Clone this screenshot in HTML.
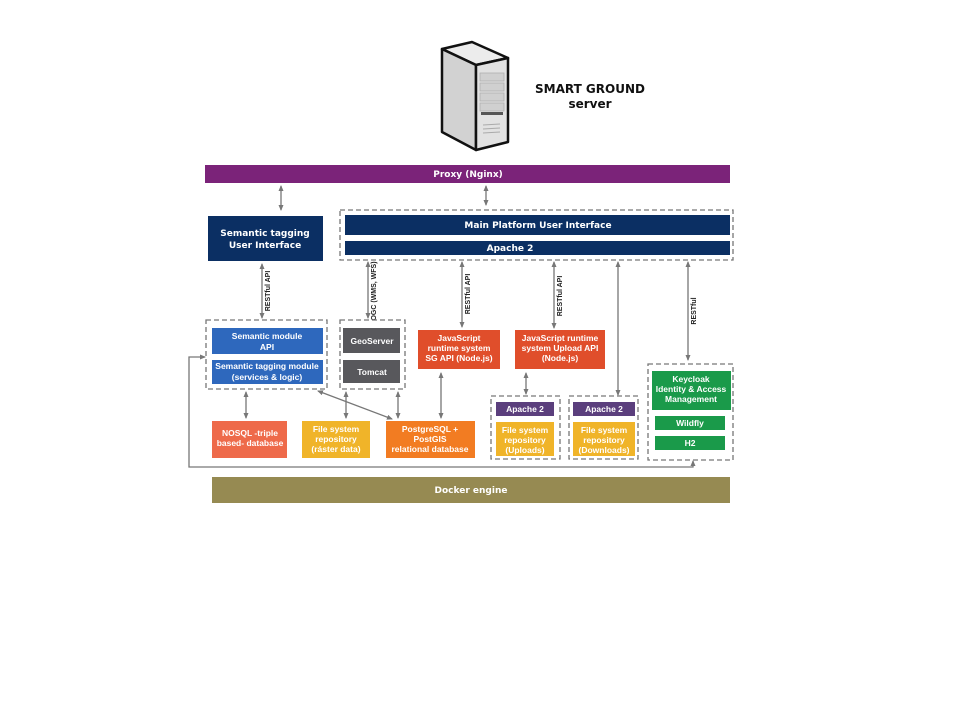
<!DOCTYPE html>
<html><head><meta charset="utf-8"><style>
html,body{margin:0;padding:0;background:#fff;width:960px;height:720px;overflow:hidden}
svg{display:block}
text{font-family:"DejaVu Sans","Liberation Sans",sans-serif;font-weight:bold;fill:#fff;text-anchor:middle}
.s{font-size:8.5px;font-family:"Liberation Sans",sans-serif}
.m{font-size:9px}
.l{font-size:7px;fill:#222;font-family:"Liberation Sans",sans-serif}
</style></head><body>
<svg width="960" height="720" viewBox="0 0 960 720" xmlns="http://www.w3.org/2000/svg">
<defs>
<marker id="a" markerWidth="6" markerHeight="6" refX="5" refY="3" orient="auto-start-reverse" markerUnits="userSpaceOnUse"><path d="M0,0.5 L6,3 L0,5.5z" fill="#777"/></marker>
</defs>
<!-- server -->
<g stroke="#111" stroke-width="2.5" stroke-linejoin="round">
<polygon points="442,49 472,42 508,58 476,65" fill="#ececec"/>
<polygon points="442,49 476,65 476,150 442,132" fill="#d2d2d2"/>
<polygon points="476,65 508,58 508,142 476,150" fill="#e2e2e2"/>
</g>
<g fill="#d0d0d0" stroke="#b0b0b0" stroke-width="0.8">
<rect x="480" y="73" width="24" height="8"/><rect x="480" y="83" width="24" height="8"/><rect x="480" y="93" width="24" height="8"/><rect x="480" y="103" width="24" height="8"/>
</g>
<rect x="481" y="112" width="22" height="3" fill="#555"/>
<line x1="483" y1="125" x2="500" y2="124" stroke="#aaa"/><line x1="483" y1="129" x2="500" y2="128" stroke="#aaa"/><line x1="483" y1="133" x2="500" y2="132" stroke="#aaa"/>
<text x="590" y="93" style="fill:#111;font-size:12px">SMART GROUND</text>
<text x="590" y="108" style="fill:#111;font-size:12px">server</text>

<rect x="205" y="165" width="525" height="18" fill="#7b2379"/>
<text class="m" x="468" y="177">Proxy (Nginx)</text>

<g stroke="#777" stroke-width="1.3" fill="none" marker-start="url(#a)" marker-end="url(#a)">
<line x1="281" y1="186" x2="281" y2="210"/>
<line x1="486" y1="186" x2="486" y2="205"/>
<line x1="262" y1="264" x2="262" y2="318"/>
<line x1="368" y1="262" x2="368" y2="318"/>
<line x1="462" y1="262" x2="462" y2="327"/>
<line x1="554" y1="262" x2="554" y2="328"/>
<line x1="618" y1="262" x2="618" y2="395"/>
<line x1="688" y1="262" x2="688" y2="360"/>
<line x1="246" y1="392" x2="246" y2="418"/>
<line x1="346" y1="392" x2="346" y2="418"/>
<line x1="398" y1="392" x2="398" y2="418"/>
<line x1="441" y1="373" x2="441" y2="418"/>
<line x1="318" y1="391" x2="392" y2="419"/>
<line x1="526" y1="373" x2="526" y2="394"/>
<polyline points="205,357 189,357 189,467 693,467 693,461"/>
</g>

<text class="l" transform="translate(270,291) rotate(-90)">RESTful API</text>
<text class="l" transform="translate(376,291) rotate(-90)">OGC (WMS, WFS)</text>
<text class="l" transform="translate(470,294) rotate(-90)">RESTful API</text>
<text class="l" transform="translate(562,296) rotate(-90)">RESTful API</text>
<text class="l" transform="translate(696,311) rotate(-90)">RESTful</text>

<rect x="208" y="216" width="115" height="45" fill="#0b2f63"/>
<text class="m" x="265" y="236">Semantic tagging</text>
<text class="m" x="265" y="248">User Interface</text>

<rect x="340" y="210" width="393" height="50" fill="none" stroke="#777" stroke-width="1.3" stroke-dasharray="5,3"/>
<rect x="345" y="215" width="385" height="20" fill="#0b2f63"/>
<text class="m" x="538" y="228">Main Platform User Interface</text>
<rect x="345" y="241" width="385" height="14" fill="#0b2f63"/>
<text class="m" x="510" y="251">Apache 2</text>

<g fill="none" stroke="#777" stroke-width="1.3" stroke-dasharray="5,3">
<rect x="206" y="320" width="121" height="69"/>
<rect x="340" y="320" width="65" height="69"/>
<rect x="491" y="396" width="69" height="63"/>
<rect x="569" y="396" width="69" height="63"/>
<rect x="648" y="364" width="85" height="96"/>
</g>

<rect x="212" y="328" width="111" height="26" fill="#2e68bd"/>
<text class="s" x="267" y="339">Semantic module</text>
<text class="s" x="267" y="350">API</text>
<rect x="212" y="360" width="111" height="24" fill="#2e68bd"/>
<text class="s" x="267" y="369">Semantic tagging module</text>
<text class="s" x="267" y="380">(services &amp; logic)</text>

<rect x="343" y="328" width="57" height="25" fill="#58585c"/>
<text class="s" x="372" y="344">GeoServer</text>
<rect x="343" y="360" width="57" height="23" fill="#58585c"/>
<text class="s" x="372" y="375">Tomcat</text>

<rect x="418" y="330" width="82" height="39" fill="#e04e2b"/>
<text class="s" x="459" y="341">JavaScript</text>
<text class="s" x="459" y="351">runtime system</text>
<text class="s" x="459" y="361">SG API (Node.js)</text>

<rect x="515" y="330" width="90" height="39" fill="#e04e2b"/>
<text class="s" x="560" y="341">JavaScript runtime</text>
<text class="s" x="560" y="351">system Upload API</text>
<text class="s" x="560" y="361">(Node.js)</text>

<rect x="496" y="402" width="58" height="14" fill="#5b3f7d"/>
<text class="s" x="525" y="412">Apache 2</text>
<rect x="496" y="422" width="58" height="34" fill="#f0b429"/>
<text class="s" x="525" y="433">File system</text>
<text class="s" x="525" y="443">repository</text>
<text class="s" x="525" y="453">(Uploads)</text>

<rect x="573" y="402" width="62" height="14" fill="#5b3f7d"/>
<text class="s" x="604" y="412">Apache 2</text>
<rect x="573" y="422" width="62" height="34" fill="#f0b429"/>
<text class="s" x="604" y="433">File system</text>
<text class="s" x="604" y="443">repository</text>
<text class="s" x="604" y="453">(Downloads)</text>

<rect x="652" y="371" width="79" height="39" fill="#1a9a4a"/>
<text class="s" x="691" y="382">Keycloak</text>
<text class="s" x="691" y="392">Identity &amp; Access</text>
<text class="s" x="691" y="402">Management</text>
<rect x="655" y="416" width="70" height="14" fill="#1a9a4a"/>
<text class="s" x="690" y="426">Wildfly</text>
<rect x="655" y="436" width="70" height="14" fill="#1a9a4a"/>
<text class="s" x="690" y="446">H2</text>

<rect x="212" y="421" width="75" height="37" fill="#ee6a4a"/>
<text class="s" x="250" y="436">NOSQL -triple</text>
<text class="s" x="250" y="446">based- database</text>
<rect x="302" y="421" width="68" height="37" fill="#f0b429"/>
<text class="s" x="336" y="432">File system</text>
<text class="s" x="336" y="442">repository</text>
<text class="s" x="336" y="452">(ráster data)</text>
<rect x="386" y="421" width="89" height="37" fill="#f27c22"/>
<text class="s" x="430" y="432">PostgreSQL +</text>
<text class="s" x="430" y="442">PostGIS</text>
<text class="s" x="430" y="452">relational database</text>

<rect x="212" y="477" width="518" height="26" fill="#968a52"/>
<text class="m" x="471" y="493">Docker engine</text>
</svg>
</body></html>
